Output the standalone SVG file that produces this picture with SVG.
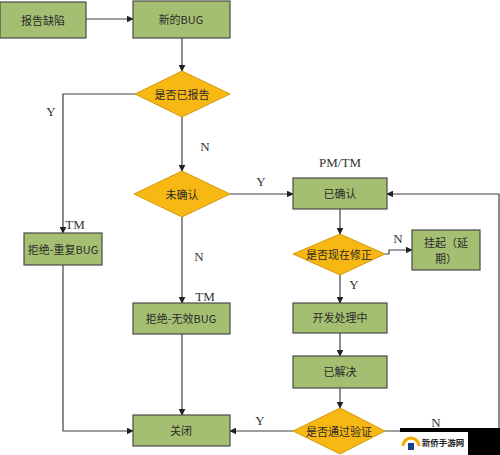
<svg xmlns="http://www.w3.org/2000/svg" width="500" height="455" viewBox="0 0 500 455">
<style>
.box{fill:#a5bf72;stroke:#4a4a4a;stroke-width:1.2}
.dia{fill:#f7b813;stroke:#d49a10;stroke-width:1}
.t{font-family:"Noto Sans CJK SC","Liberation Sans",sans-serif;font-size:11px;fill:#2a2a2a;text-anchor:middle;dominant-baseline:central}
.lb{font-family:"Liberation Serif",serif;font-size:13px;fill:#333;text-anchor:middle}
.c{fill:none;stroke:#404040;stroke-width:1.2;marker-end:url(#ah)}
</style>
<defs>
<marker id="ah" viewBox="0 0 10 10" refX="9" refY="5" markerWidth="7" markerHeight="7" markerUnits="userSpaceOnUse" orient="auto">
<path d="M0,0 L10,5 L0,10 z" fill="#222"/>
</marker>
</defs>
<rect width="500" height="455" fill="#fff"/>
<g id="connectors">
<path class="c" d="M86,19 H133"/>
<path class="c" d="M182,38 V71"/>
<path class="c" d="M135,94 H63 V233"/>
<path class="c" d="M182,117 V171"/>
<path class="c" d="M182,217 V303"/>
<path class="c" d="M182,334 V415"/>
<path class="c" d="M63,265 V431 H133"/>
<path class="c" d="M230,194 H293"/>
<path class="c" d="M340,209 V234"/>
<path class="c" d="M385,254 H389 V250 H412"/>
<path class="c" d="M340,275 V303"/>
<path class="c" d="M340,333 V356"/>
<path class="c" d="M340,388 V408"/>
<path class="c" d="M293,431 H230"/>
<path class="c" d="M385,431 H499 V194 H387"/>
</g>
<g id="labels">
<text class="lb" x="51" y="116">Y</text>
<text class="lb" x="205" y="151">N</text>
<text class="lb" x="75" y="229">TM</text>
<text class="lb" x="199" y="261">N</text>
<text class="lb" x="205" y="301">TM</text>
<text class="lb" x="261" y="186">Y</text>
<text class="lb" x="340" y="167">PM/TM</text>
<text class="lb" x="398" y="243">N</text>
<text class="lb" x="354" y="289">Y</text>
<text class="lb" x="260" y="425">Y</text>
<text class="lb" x="436" y="427">N</text>
</g>
<g id="n1"><rect class="box" x="0" y="2" width="86" height="36"/><text class="t" x="43" y="20">报告缺陷</text></g>
<g id="n2"><rect class="box" x="133" y="1" width="97" height="37"/><text class="t" x="181" y="19">新的BUG</text></g>
<g id="n3"><polygon class="dia" points="182,71 230,94 182,117 135,94"/><text class="t" x="182" y="94">是否已报告</text></g>
<g id="n4"><polygon class="dia" points="182,171 230,194 182,217 134,194"/><text class="t" x="182" y="194">未确认</text></g>
<g id="n5"><rect class="box" x="24" y="233" width="78" height="32"/><text class="t" x="63" y="249">拒绝-重复BUG</text></g>
<g id="n6"><rect class="box" x="133" y="303" width="97" height="31"/><text class="t" x="181" y="318">拒绝-无效BUG</text></g>
<g id="n7"><rect class="box" x="133" y="415" width="97" height="31"/><text class="t" x="181" y="430">关闭</text></g>
<g id="n8"><rect class="box" x="293" y="178" width="94" height="31"/><text class="t" x="340" y="193">已确认</text></g>
<g id="n9"><polygon class="dia" points="340,234 385,254 340,275 293,254"/><text class="t" x="339" y="254">是否现在修正</text></g>
<g id="n10"><rect class="box" x="412" y="230" width="68" height="40"/><text class="t" x="446" y="242">挂起（延</text><text class="t" x="446" y="258">期）</text></g>
<g id="n11"><rect class="box" x="293" y="303" width="94" height="30"/><text class="t" x="340" y="317">开发处理中</text></g>
<g id="n12"><rect class="box" x="293" y="356" width="94" height="32"/><text class="t" x="340" y="371">已解决</text></g>
<g id="n13"><polygon class="dia" points="340,408 385,431 340,454 293,431"/><text class="t" x="339" y="431">是否通过验证</text></g>
<g id="watermark">
<rect x="400" y="428" width="100" height="27" fill="#000"/>
<rect x="400" y="432" width="68" height="23" fill="#fff"/>
<path d="M403,446 A8,8 0 0 1 419,446" fill="none" stroke="#f2a900" stroke-width="3"/>
<rect x="408" y="443" width="6" height="7" fill="#1b3f8f"/>
<text x="443" y="442" font-family="Noto Sans CJK SC,serif" font-size="8.5" font-weight="bold" fill="#222" text-anchor="middle" dominant-baseline="central">新侨手游网</text>
</g>
</svg>
